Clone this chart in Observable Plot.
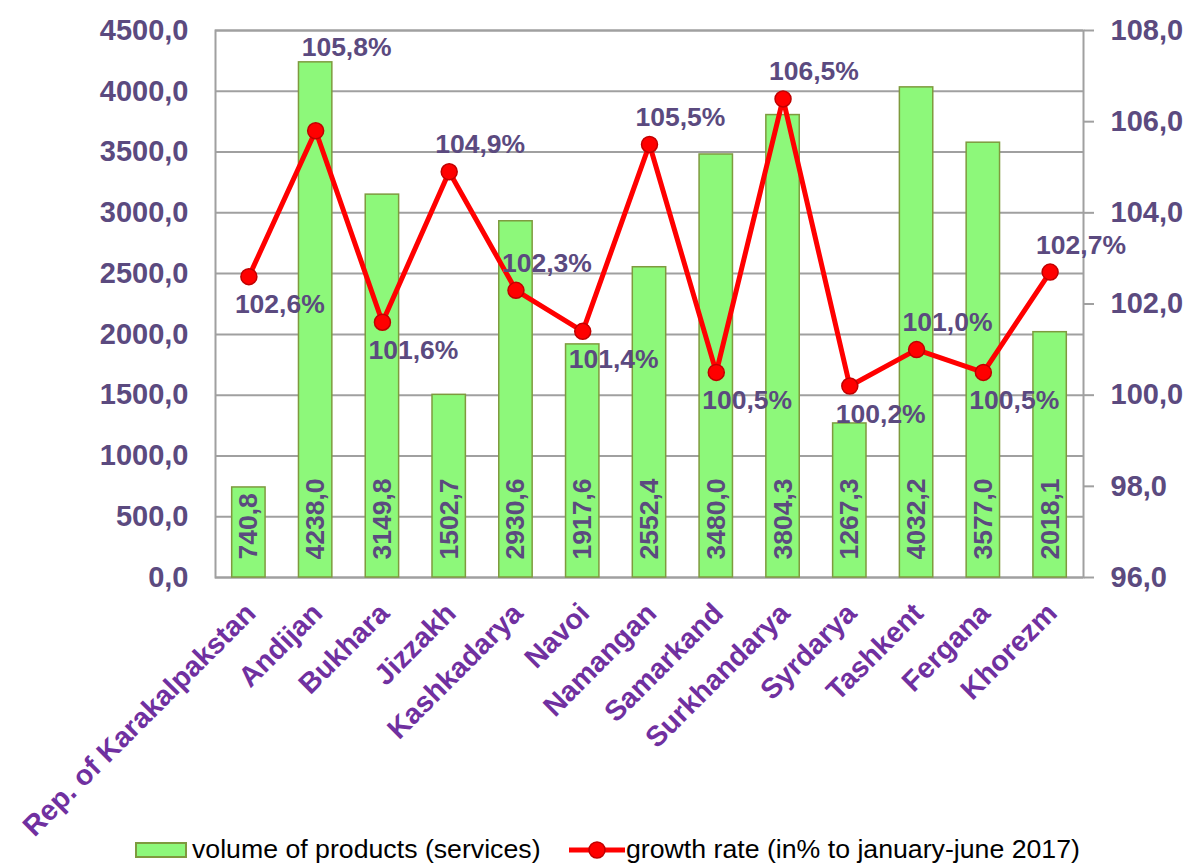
<!DOCTYPE html>
<html><head><meta charset="utf-8">
<script src="https://cdn.jsdelivr.net/npm/d3@7"></script>
<script src="https://cdn.jsdelivr.net/npm/@observablehq/plot@0.6"></script>
<style>
body{margin:0;background:#fff;font-family:"Liberation Sans",Arial,sans-serif;}
#legend{position:relative;height:38px;width:1186px;}
#legend .item{position:absolute;top:9px;display:flex;align-items:center;font-size:26.7px;color:#000;white-space:nowrap;}
#legend .sw{width:48px;height:12px;background:#8df87a;border:2px solid #7e9a3e;margin-right:5px;}
</style></head><body><div id="chart"></div>
<div id="legend">
  <div class="item" style="left:135px"><div class="sw"></div><span>volume of products (services)</span></div>
  <div class="item" style="left:569px"><svg width="56" height="24" style="margin-right:1px"><line x1="0" y1="12" x2="56" y2="12" stroke="#ff0000" stroke-width="5"/><circle cx="28" cy="12" r="8" fill="#ff0000" stroke="#c00000" stroke-width="1.5"/></svg><span>growth rate (in% to january-june 2017)</span></div>
</div>
<script>
const regions = ["Rep. of Karakalpakstan","Andijan","Bukhara","Jizzakh","Kashkadarya","Navoi","Namangan","Samarkand","Surkhandarya","Syrdarya","Tashkent","Fergana","Khorezm"];
const volume = [740.8, 4238.0, 3149.8, 1502.7, 2930.6, 1917.6, 2552.4, 3480.0, 3804.3, 1267.3, 4032.2, 3577.0, 2018.1];
const growth = [102.6, 105.8, 101.6, 104.9, 102.3, 101.4, 105.5, 100.5, 106.5, 100.2, 101.0, 100.5, 102.7];
const yTicksLeft = [0, 500, 1000, 1500, 2000, 2500, 3000, 3500, 4000, 4500];
const yTicksRight = [96, 98, 100, 102, 104, 106, 108];
const labelPlacement = ["below","high","below","above","above","below","above","below","above","below","above","below","above"];

const leftMax = 4500, rMin = 96, rMax = 108;
const toLeft = g => (g - rMin) / (rMax - rMin) * leftMax;
const fromLeft = v => v / leftMax * (rMax - rMin) + rMin;
const fmt1 = v => v.toFixed(1).replace(".", ",");
const data = regions.map((r, i) => ({region: r, volume: volume[i], growth: growth[i], gy: toLeft(growth[i]), place: labelPlacement[i]}));

const textColor = "#5b4a7f";
const grid = "#a0a0a0";
const labelOpts = {x: "region", y: "gy", text: d => fmt1(d.growth) + "%", textAnchor: "start", lineAnchor: "middle", dx: -14, fontSize: 26.5, fontWeight: "bold", fill: textColor};

const plot = Plot.plot({
  width: 1186, height: 825,
  marginLeft: 215, marginRight: 103, marginTop: 30, marginBottom: 248,
  style: {fontFamily: '"Liberation Sans", Arial, sans-serif', background: "white", overflow: "visible"},
  x: {domain: regions, paddingInner: 0.5, paddingOuter: 0.25, round: false, axis: null},
  y: {domain: [0, leftMax], axis: null},
  marks: [
    Plot.ruleY(yTicksLeft, {stroke: grid, strokeWidth: 2}),
    Plot.frame({stroke: grid, strokeWidth: 2}),
    Plot.axisY(yTicksLeft, {anchor: "left", tickSize: 0, tickPadding: 27, tickFormat: fmt1, fontSize: 29, fontWeight: "bold", fill: textColor}),
    Plot.axisY(yTicksRight.map(toLeft), {anchor: "right", tickSize: 10, tickPadding: 17, tickFormat: d => fmt1(fromLeft(d)), fontSize: 29, fontWeight: "bold", fill: textColor, stroke: grid, strokeWidth: 2}),
    Plot.barY(data, {x: "region", y: "volume", fill: "#8df87a", stroke: "#7e9a3e", strokeWidth: 1.5}),
    Plot.text(data, {x: "region", y: 0, text: d => fmt1(d.volume), rotate: -90, textAnchor: "start", lineAnchor: "middle", dy: -18, fontSize: 26.5, fontWeight: "bold", fill: textColor}),
    Plot.line(data, {x: "region", y: "gy", stroke: "#ff0000", strokeWidth: 5}),
    Plot.dot(data, {x: "region", y: "gy", r: 8, fill: "#ff0000", stroke: "#c00000", strokeWidth: 1.5}),
    Plot.text(data.filter(d => d.place === "above"), {...labelOpts, dy: -27}),
    Plot.text(data.filter(d => d.place === "high"), {...labelOpts, dy: -83}),
    Plot.text(data.filter(d => d.place === "below"), {...labelOpts, dy: 28}),
    Plot.text(regions, {x: d => d, frameAnchor: "bottom", rotate: -45, textAnchor: "end", lineAnchor: "middle", dx: 2, dy: 31, fontSize: 28.5, fontWeight: "bold", fill: "#7030a0"})
  ]
});
document.getElementById("chart").appendChild(plot);
</script>
</body></html>
